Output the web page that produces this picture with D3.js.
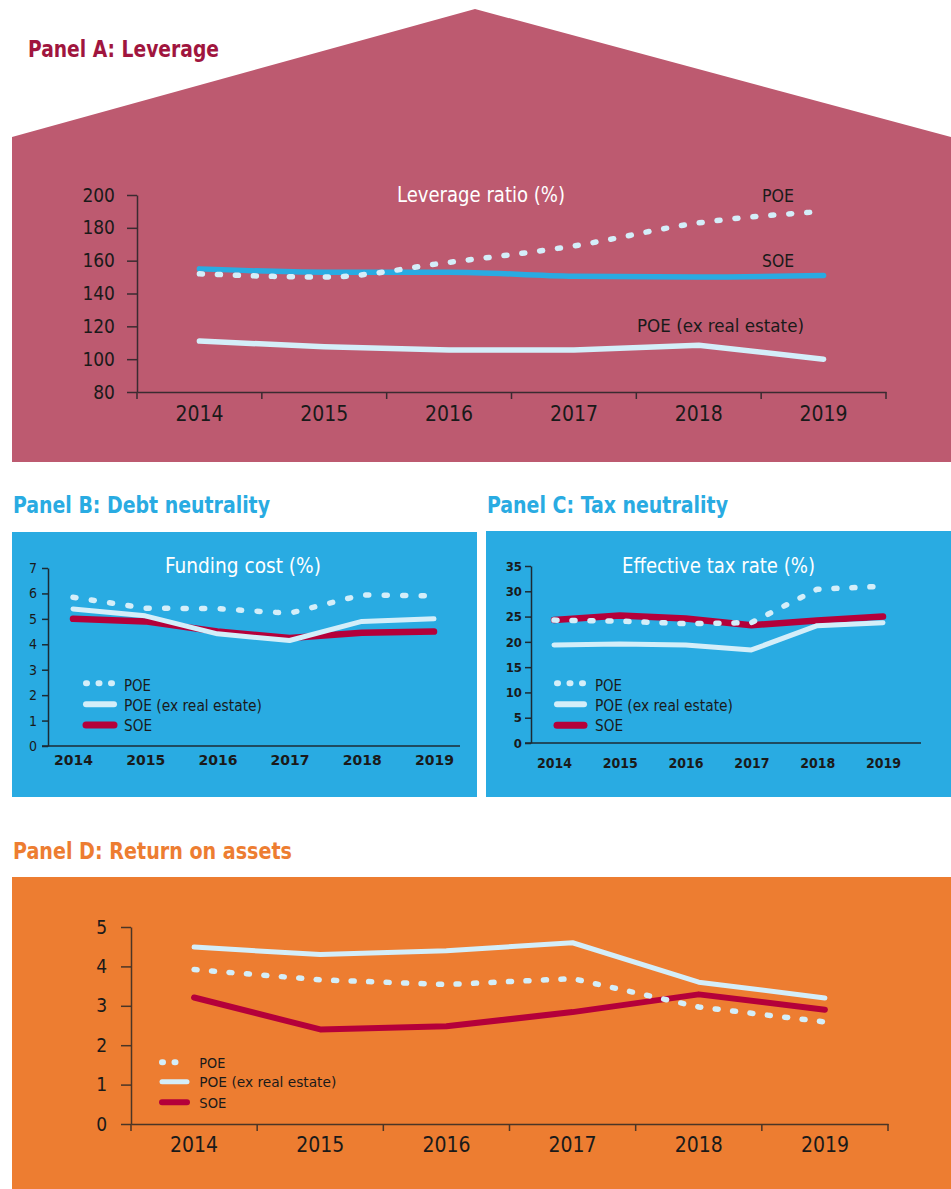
<!DOCTYPE html>
<html><head><meta charset="utf-8">
<script src="https://cdn.jsdelivr.net/npm/d3@7"></script>
<style>body{margin:0;background:#fff}svg{display:block}</style>
</head><body><svg id="c" width="951" height="1189"></svg>
<script>
// ---------- DATA ----------
const years = ["2014","2015","2016","2017","2018","2019"];
const seriesNames = ["POE","POE (ex real estate)","SOE"];

const levTicks = [80,100,120,140,160,180,200];
const levPOE     = [152,150,159,169,183,190];
const levPOEexRE = [111,107.5,105.6,105.6,108.5,100];
const levSOE     = [155,153,153,150.5,150,151];

const fundTicks = [0,1,2,3,4,5,6,7];
const fundPOE     = [5.85,5.42,5.4,5.22,5.94,5.9];
const fundPOEexRE = [5.39,5.12,4.41,4.15,4.9,5.0];
const fundSOE     = [5.0,4.9,4.5,4.25,4.45,4.5];

const taxTicks = [0,5,10,15,20,25,30,35];
const taxPOE     = [24.3,24.1,23.6,23.8,30.4,31.0];
const taxPOEexRE = [19.4,19.6,19.4,18.4,23.2,23.8];
const taxSOE     = [24.3,25.2,24.6,23.3,24.2,25.0];

const roaTicks = [0,1,2,3,4,5];
const roaPOE     = [3.92,3.66,3.54,3.69,2.97,2.59];
const roaPOEexRE = [4.49,4.30,4.40,4.60,3.60,3.20];
const roaSOE     = [3.21,2.40,2.48,2.84,3.29,2.90];

// ---------- STYLE ----------
const COND = "'DejaVu Sans Condensed','DejaVu Sans',sans-serif";
const NARROW = "'Liberation Sans Narrow','DejaVu Sans Condensed',sans-serif";
const C_PINK = "#bd5a70", C_BLUE = "#29abe2", C_ORANGE = "#ed7d31";
const C_TITLE_A = "#a0153e", C_RED = "#b4003a", C_LIGHT = "#d4eef9";
const C_TEXT = "#1a1a1a";
const fmtInt = d3.format("d");

const svg = d3.select("#c");
svg.append("rect").attr("width",951).attr("height",1189).attr("fill","#fff");

function label(g, s, x, y, o) {
  const t = g.append("text").attr("x", x).attr("y", y).text(s)
    .attr("font-family", o.ff || COND).attr("font-size", o.fs)
    .attr("fill", o.fill || C_TEXT).attr("font-weight", o.fw || "normal");
  if (o.anchor) t.attr("text-anchor", o.anchor);
  if (o.len) t.attr("textLength", o.len).attr("lengthAdjust", "spacingAndGlyphs");
  return t;
}

function series(g, xf, y, vals, st, curve) {
  const line = d3.line().x((d,i) => xf(years[i])).y(d => y(d)).curve(curve || d3.curveLinear);
  const p = g.append("path").datum(vals).attr("d", line).attr("fill","none")
    .attr("stroke", st.color).attr("stroke-width", st.w)
    .attr("stroke-linecap","round").attr("stroke-linejoin","round");
  if (st.dash) p.attr("stroke-dasharray", st.dash);
}

function styleAxis(a, color, fs, fw, ff) {
  a.selectAll("path.domain").attr("stroke", color).attr("stroke-width", 1.5);
  a.selectAll(".tick line").attr("stroke", color).attr("stroke-width", 1.5);
  a.selectAll("text").attr("fill", C_TEXT).attr("font-size", fs)
    .attr("font-family", ff || COND).attr("font-weight", fw || "normal");
}

function legend(g, x1, x2, ys, tx, tys, fs, lens, wSolid, wRed) {
  const styles = [
    {color: C_LIGHT, w: 6, dash: "1,11.5"},
    {color: C_LIGHT, w: wSolid},
    {color: C_RED, w: wRed}
  ];
  seriesNames.forEach((n, i) => {
    const st = styles[i];
    const l = g.append("line").attr("x1", x1 + 3).attr("x2", x2 - 3)
      .attr("y1", ys[i]).attr("y2", ys[i]).attr("stroke", st.color)
      .attr("stroke-width", st.w).attr("stroke-linecap","round");
    if (st.dash) l.attr("stroke-dasharray", st.dash);
    label(g, n, tx, tys[i], {fs: fs, len: lens[i]});
  });
}

// ================= PANEL A =================
const gA = svg.append("g");
gA.append("path").attr("d","M12,137 L475,9 L951,137 L951,462 L12,462 Z").attr("fill", C_PINK);
label(gA, "Panel A: Leverage", 28, 56.5, {ff: NARROW, fs: 23, fw: "bold", fill: C_TITLE_A, len: 191});

const xA = d3.scaleBand().domain(years).range([137, 886]);
const yA = d3.scaleLinear().domain([80, 200]).range([392, 195]);
const cxA = d => xA(d) + xA.bandwidth()/2;
const axColA = "#3a2b30";

const ayA = gA.append("g").attr("transform","translate(137,0)")
  .call(d3.axisLeft(yA).tickValues(levTicks).tickFormat(fmtInt).tickSize(10).tickPadding(12).tickSizeOuter(0));
styleAxis(ayA, axColA, 19);
const axA = gA.append("g").attr("transform","translate(0,392)")
  .call(d3.axisBottom(xA).tickSize(0).tickPadding(14).tickSizeOuter(0));
styleAxis(axA, axColA, 21);
gA.selectAll(null).data(d3.range(years.length + 1)).enter().append("line")
  .attr("x1", i => xA.range()[0] + i * xA.step()).attr("x2", i => xA.range()[0] + i * xA.step())
  .attr("y1", 392).attr("y2", 399).attr("stroke", axColA).attr("stroke-width", 1.5);

label(gA, "Leverage ratio (%)", 397, 201.7, {fs: 21, fill: "#fff", len: 168});
series(gA, cxA, yA, levPOEexRE, {color: C_LIGHT, w: 5.5});
series(gA, cxA, yA, levSOE, {color: C_BLUE, w: 5.5}, d3.curveMonotoneX);
series(gA, cxA, yA, levPOE, {color: C_LIGHT, w: 5.5, dash: "3,15"}, d3.curveMonotoneX);
label(gA, "POE", 762, 201.5, {fs: 18, len: 32});
label(gA, "SOE", 762, 267, {fs: 18, len: 32});
label(gA, "POE (ex real estate)", 637, 331.5, {fs: 18, len: 167});

// ================= PANEL B =================
const gB = svg.append("g");
label(gB, "Panel B: Debt neutrality", 13, 513, {ff: NARROW, fs: 23, fw: "bold", fill: C_BLUE, len: 257});
gB.append("rect").attr("x",12).attr("y",532).attr("width",465).attr("height",265).attr("fill", C_BLUE);

const xB = d3.scalePoint().domain(years).range([73, 434]);
const yB = d3.scaleLinear().domain([0, 7]).range([746, 568]);
const axColB = "#1c2a33";
gB.append("line").attr("x1",42).attr("x2",460).attr("y1",yB(0)).attr("y2",yB(0))
  .attr("stroke", axColB).attr("stroke-width",1.5);
const ayB = gB.append("g").attr("transform","translate(48,0)")
  .call(d3.axisLeft(yB).tickValues(fundTicks).tickFormat(fmtInt).tickSize(6).tickPadding(5).tickSizeOuter(0));
styleAxis(ayB, axColB, 14);
const axB = gB.append("g").attr("transform","translate(0,746)")
  .call(d3.axisBottom(xB).tickSize(0).tickPadding(9).tickSizeOuter(0));
axB.select("path.domain").remove();
styleAxis(axB, axColB, 14, "bold", "'DejaVu Sans',sans-serif");

label(gB, "Funding cost (%)", 165, 573.3, {fs: 22, fill: "#fff", len: 156});
series(gB, xB, yB, fundSOE, {color: C_RED, w: 6.5});
series(gB, xB, yB, fundPOEexRE, {color: C_LIGHT, w: 5});
series(gB, xB, yB, fundPOE, {color: C_LIGHT, w: 5.5, dash: "3,15.5"});
legend(gB, 83, 117, [683.3, 704.3, 725], 124, [690.7, 710.5, 731], 15, [27, 138, 28], 6, 7);

// ================= PANEL C =================
const gC = svg.append("g");
label(gC, "Panel C: Tax neutrality", 487, 513, {ff: NARROW, fs: 23, fw: "bold", fill: C_BLUE, len: 241});
gC.append("rect").attr("x",486).attr("y",531).attr("width",465).attr("height",266).attr("fill", C_BLUE);

const xC = d3.scalePoint().domain(years).range([554, 883]);
const yC = d3.scaleLinear().domain([0, 35]).range([743, 566]);
gC.append("line").attr("x1",525).attr("x2",921).attr("y1",yC(0)).attr("y2",yC(0))
  .attr("stroke", axColB).attr("stroke-width",1.5);
const ayC = gC.append("g").attr("transform","translate(531,0)")
  .call(d3.axisLeft(yC).tickValues(taxTicks).tickFormat(fmtInt).tickSize(6).tickPadding(3).tickSizeOuter(0));
styleAxis(ayC, axColB, 13, "bold");
const axC = gC.append("g").attr("transform","translate(0,743)")
  .call(d3.axisBottom(xC).tickSize(0).tickPadding(15).tickSizeOuter(0));
axC.select("path.domain").remove();
styleAxis(axC, axColB, 14, "bold");

label(gC, "Effective tax rate (%)", 622, 573.3, {fs: 22, fill: "#fff", len: 193});
series(gC, xC, yC, taxSOE, {color: C_RED, w: 6.5});
series(gC, xC, yC, taxPOEexRE, {color: C_LIGHT, w: 5});
series(gC, xC, yC, taxPOE, {color: C_LIGHT, w: 5.5, dash: "3,15"});
legend(gC, 554, 587, [683.3, 704.3, 725.3], 595, [690.7, 710.5, 731], 15, [27, 138, 28], 6, 7);

// ================= PANEL D =================
const gD = svg.append("g");
label(gD, "Panel D: Return on assets", 13, 859, {ff: NARROW, fs: 23, fw: "bold", fill: C_ORANGE, len: 279});
gD.append("rect").attr("x",12).attr("y",877).attr("width",939).attr("height",312).attr("fill", C_ORANGE);

const xD = d3.scaleBand().domain(years).range([131, 888]);
const yD = d3.scaleLinear().domain([0, 5]).range([1124, 927]);
const cxD = d => xD(d) + xD.bandwidth()/2;
const axColD = "#4a3526";
const ayD = gD.append("g").attr("transform","translate(131,0)")
  .call(d3.axisLeft(yD).tickValues(roaTicks).tickFormat(fmtInt).tickSize(10).tickPadding(14).tickSizeOuter(0));
styleAxis(ayD, axColD, 19);
const axD = gD.append("g").attr("transform","translate(0,1124)")
  .call(d3.axisBottom(xD).tickSize(0).tickPadding(13).tickSizeOuter(0));
styleAxis(axD, axColD, 21);
gD.selectAll(null).data(d3.range(years.length + 1)).enter().append("line")
  .attr("x1", i => xD.range()[0] + i * xD.step()).attr("x2", i => xD.range()[0] + i * xD.step())
  .attr("y1", 1124).attr("y2", 1131).attr("stroke", axColD).attr("stroke-width", 1.5);

series(gD, cxD, yD, roaSOE, {color: C_RED, w: 6});
series(gD, cxD, yD, roaPOEexRE, {color: C_LIGHT, w: 5});
series(gD, cxD, yD, roaPOE, {color: C_LIGHT, w: 5.5, dash: "3,14.5"});
legend(gD, 159, 190, [1062.3, 1081.7, 1102.3], 199.3, [1067.7, 1087.3, 1107.7], 13.5, [26, 137, 27], 5, 6);
</script>
</body></html>
